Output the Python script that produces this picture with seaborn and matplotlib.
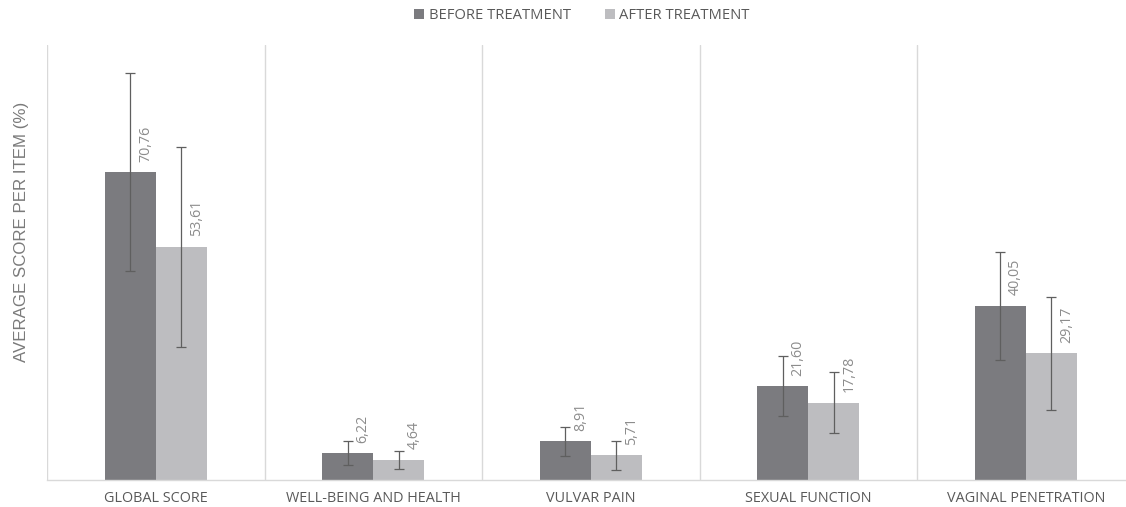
import matplotlib
matplotlib.use("Agg")
import matplotlib.pyplot as plt
import seaborn as sns
import pandas as pd
import numpy as np

categories = ["GLOBAL SCORE", "WELL-BEING AND HEALTH", "VULVAR PAIN",
              "SEXUAL FUNCTION", "VAGINAL PENETRATION"]
series_names = ["BEFORE TREATMENT", "AFTER TREATMENT"]
before_vals = [70.76, 6.22, 8.91, 21.60, 40.05]
after_vals = [53.61, 4.64, 5.71, 17.78, 29.17]
before_err = [22.7, 2.8, 3.3, 6.9, 12.4]
after_err = [23.0, 2.1, 3.3, 7.0, 13.0]
before_labels = ["70,76", "6,22", "8,91", "21,60", "40,05"]
after_labels = ["53,61", "4,64", "5,71", "17,78", "29,17"]

colors = ["#7b7b7f", "#bdbdc0"]

sns.set_theme(style="white")
plt.rcParams["font.family"] = ["Open Sans", "DejaVu Sans"]

df = pd.DataFrame({
    "category": categories * 2,
    "series": [series_names[0]] * len(categories) + [series_names[1]] * len(categories),
    "value": before_vals + after_vals,
})

fig = plt.figure(figsize=(11.26, 5.07), dpi=100)
ax = fig.add_axes([47 / 1126, 27 / 507, (1134.5 - 47) / 1126, 435 / 507])

sns.barplot(data=df, x="category", y="value", hue="series", order=categories,
            hue_order=series_names, palette=colors, width=0.47, saturation=1,
            errorbar=None, ax=ax, legend=True, linewidth=0)

errs = [before_err, after_err]
labels = [before_labels, after_labels]
vals = [before_vals, after_vals]
bar_conts = list(ax.containers)[:2]
for ci, cont in enumerate(bar_conts):
    xs = [b.get_x() + b.get_width() / 2 for b in cont]
    ax.errorbar(xs, vals[ci], yerr=errs[ci], fmt="none", ecolor="#5f5f5f",
                elinewidth=0.9, capsize=3.8, capthick=0.9, zorder=3)
    for x, v, lab in zip(xs, vals[ci], labels[ci]):
        ax.text(x + 0.07, v + 2.4, lab, rotation=90, ha="center", va="bottom",
                fontsize=10.3, color="#8c8c8c")

ax.set_xlim(-0.5, 4.5)
ax.set_ylim(0, 100)
ax.set_yticks([])
ax.set_xlabel("")
ax.set_ylabel("AVERAGE SCORE PER ITEM (%)", family="Liberation Sans",
              fontsize=12.2, color="#7a7a7a")
ax.yaxis.set_label_coords(-0.0166, 0.570)
ax.set_xticks(range(len(categories)))
ax.set_xticklabels(categories, fontsize=10.4, color="#595959")
ax.tick_params(axis="x", length=0, pad=8)
ax.set_xticks(np.arange(-0.5, 5.0, 1.0), minor=True)
ax.tick_params(axis="x", which="minor", length=0)
ax.grid(which="minor", axis="x", color="#d9d9d9", linewidth=1)
ax.grid(which="major", axis="both", visible=False)
for s in ["top", "right", "left"]:
    ax.spines[s].set_visible(False)
ax.spines["bottom"].set_color("#d9d9d9")
ax.spines["bottom"].set_linewidth(1)

leg = ax.legend(loc="upper center", bbox_to_anchor=((582 - 47) / 1087.5, 478 / 435),
                ncol=2, frameon=False, fontsize=10.6, handlelength=0.7, handleheight=0.7,
                handletextpad=0.3, columnspacing=2.3, borderaxespad=0)
for t in leg.get_texts():
    t.set_color("#595959")

fig.savefig("out.png", dpi=100, facecolor="white")
